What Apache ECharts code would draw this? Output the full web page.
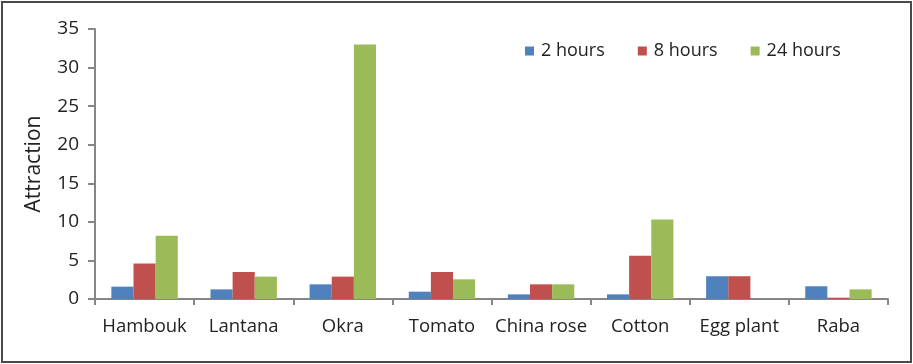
<!DOCTYPE html>
<html>
<head>
<meta charset="utf-8">
<script src="https://cdn.jsdelivr.net/npm/echarts@6/dist/echarts.min.js"></script>
<style>
html,body{margin:0;padding:0;background:#fff;}
#frame{position:absolute;left:1px;top:1px;width:907px;height:358px;border:2px solid #4a4a4a;box-sizing:content-box;}
#chart{position:absolute;left:0;top:0;width:913px;height:364px;}
</style>
</head>
<body>
<div id="frame"></div>
<div id="chart"></div>
<script>
var categories = ["Hambouk","Lantana","Okra","Tomato","China rose","Cotton","Egg plant","Raba"];
var seriesNames = ["2 hours","8 hours","24 hours"];
var hours2 = [1.6, 1.25, 1.9, 0.95, 0.6, 0.6, 2.95, 1.65];
var hours8 = [4.6, 3.5, 2.9, 3.5, 1.9, 5.6, 2.95, 0.17];
var hours24 = [8.2, 2.9, 33.0, 2.55, 1.9, 10.3, 0, 1.25];
var yTicks = [0,5,10,15,20,25,30,35];
var colors = ["#4f81bd","#c0504d","#9bbb59"];

var font = "'Open Sans', sans-serif";
var chart = echarts.init(document.getElementById('chart'), null, {renderer:'canvas'});
var data = [hours2, hours8, hours24];
chart.setOption({
  animation:false,
  color: colors,
  grid:{left:95, right:25, top:29, bottom:65, containLabel:false},
  legend:{
    data: seriesNames,
    top: 37, left: 520,
    itemWidth: 9, itemHeight: 9, itemGap: 33,
    icon: 'rect',
    textStyle:{fontFamily:font, fontSize:18, color:'#222', padding:[0,0,0,2]}
  },
  xAxis:{
    type:'category',
    data: categories,
    axisLine:{lineStyle:{color:'#868686', width:2}},
    axisTick:{show:true, length:6, lineStyle:{color:'#868686', width:2}, alignWithLabel:false},
    axisLabel:{fontFamily:font, fontSize:18.5, color:'#222', margin:18, interval:0}
  },
  yAxis:{
    type:'value', min:0, max:35, interval:5,
    name:'Attraction', nameLocation:'middle', nameGap:50,
    nameTextStyle:{fontFamily:font, fontSize:21, color:'#222'},
    axisLine:{show:true, lineStyle:{color:'#868686', width:2}},
    axisTick:{show:true, length:7, lineStyle:{color:'#868686', width:2}},
    splitLine:{show:false},
    axisLabel:{fontFamily:font, fontSize:19, color:'#222', margin:16,
      formatter:function(v){ return yTicks.indexOf(v)>=0 ? String(v) : ''; }}
  },
  series: seriesNames.map(function(n,i){
    return {
      name:n, type:'bar', data:data[i],
      barGap:'0%', barCategoryGap:'33%',
      itemStyle:{color:colors[i], borderWidth:0}
    };
  })
});
</script>
</body>
</html>
